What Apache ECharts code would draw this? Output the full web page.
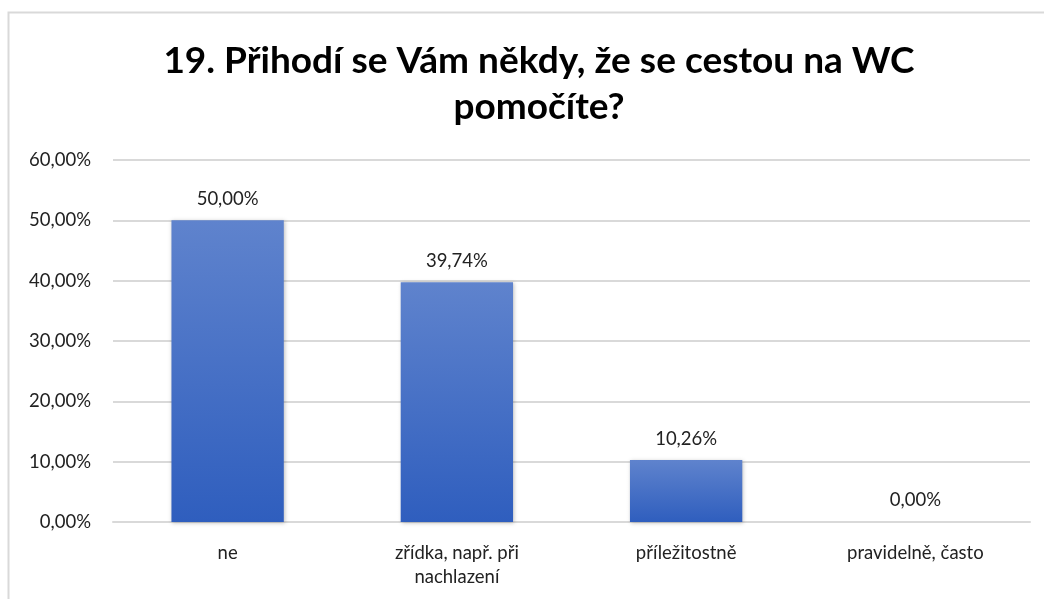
<!DOCTYPE html>
<html>
<head>
<meta charset="utf-8">
<script src="https://cdn.jsdelivr.net/npm/echarts@6/dist/echarts.min.js"></script>
<style>
html,body{margin:0;padding:0;background:#fff;}
#chart{width:1044px;height:599px;}
</style>
</head>
<body>
<div id="chart"></div>
<script>
const titleText = "19. Přihodí se Vám někdy, že se cestou na WC\npomočíte?";
const categories = ["ne", "zřídka, např. při\nnachlazení", "příležitostně", "pravidelně, často"];
const values = [50.00, 39.74, 10.26, 0.00];
const yTicks = { min: 0, max: 60, interval: 10 };

function pct(v) { return v.toFixed(2).replace('.', ',') + '%'; }

const chart = echarts.init(document.getElementById('chart'));
chart.setOption({
  backgroundColor: '#fff',
  animation: false,
  graphic: [{
    type: 'rect',
    shape: { x: 8.5, y: 12.5, width: 1100, height: 700 },
    style: { fill: 'none', stroke: '#d9d9d9', lineWidth: 2 },
    silent: true
  }],
  title: {
    text: titleText,
    left: 534,
    textAlign: 'center',
    top: 33,
    textStyle: {
      fontFamily: 'Lato',
      fontWeight: 'bold',
      fontSize: 37,
      lineHeight: 46,
      color: '#000'
    }
  },
  grid: { left: 113, right: 14, top: 160, bottom: 77, containLabel: false },
  xAxis: {
    type: 'category',
    data: categories,
    axisLine: { lineStyle: { color: '#d9d9d9', width: 2 } },
    axisTick: { show: false },
    axisLabel: {
      fontFamily: 'Lato', fontSize: 18.5, color: '#222', margin: 19, lineHeight: 24,
      interval: 0
    }
  },
  yAxis: {
    type: 'value',
    min: yTicks.min, max: yTicks.max, interval: yTicks.interval,
    axisLine: { show: false },
    axisTick: { show: false },
    splitLine: { lineStyle: { color: '#d9d9d9', width: 2 } },
    axisLabel: {
      fontFamily: 'Lato', fontSize: 18.5, color: '#222', margin: 22,
      formatter: v => pct(v)
    }
  },
  series: [{
    type: 'bar',
    data: values,
    barWidth: '49%',
    itemStyle: {
      color: new echarts.graphic.LinearGradient(0, 0, 0, 1, [
        { offset: 0, color: '#5F83CD' },
        { offset: 1, color: '#2F5EBE' }
      ]),
      shadowColor: 'rgba(0,0,0,0.25)',
      shadowBlur: 4,
      shadowOffsetX: 1,
      shadowOffsetY: 1
    },
    label: {
      show: true,
      position: 'top',
      distance: 12,
      fontFamily: 'Lato', fontSize: 18.5, color: '#222',
      formatter: p => pct(p.value)
    }
  }]
});
</script>
</body>
</html>
